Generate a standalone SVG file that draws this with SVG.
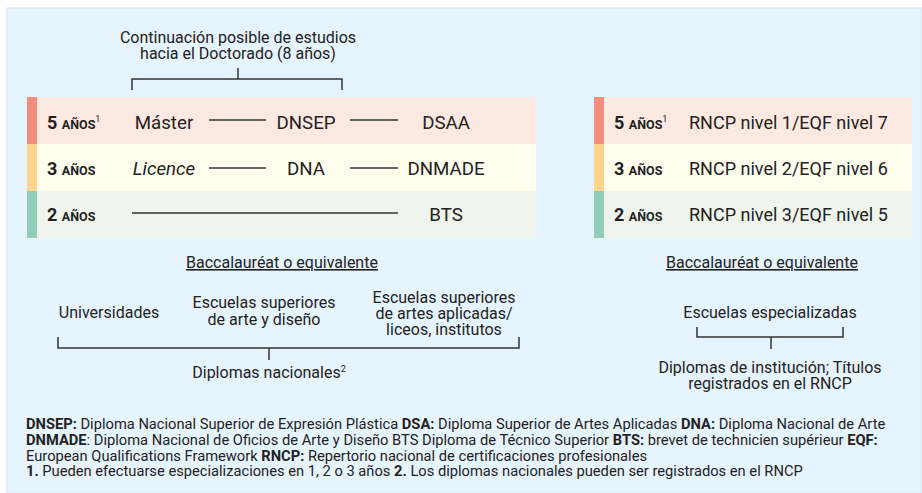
<svg xmlns="http://www.w3.org/2000/svg" width="922" height="493" viewBox="0 0 922 493">
<style>
text{font-family:Roboto,"Liberation Sans",sans-serif;fill:#222;}
.t{font-size:16px;}
.m{font-size:18.7px;}
.n{font-size:18px;}
.c{text-anchor:middle;}
.b{font-weight:bold;}
.sc{font-size:12.5px;font-weight:bold;}
.sup{font-size:9px;font-weight:normal;}
.fn{font-size:14.7px;}
.ln{stroke:#333;stroke-width:1.5;fill:none;}
.r1{fill:#fce9e1;} .b1{fill:#f28e7d;}
.r2{fill:#fffdee;} .b2{fill:#fdd58c;}
.r3{fill:#eff5ec;} .b3{fill:#8fcdb8;}
</style>
<rect x="0" y="0" width="922" height="493" fill="#fff"/>
<rect x="7" y="8" width="915" height="485" fill="#e6f4fd" stroke="#d8e6f5" stroke-width="1"/>

<g id="doctorado">
<text class="t c" x="238" y="43">Continuación posible de estudios</text>
<text class="t c" x="238" y="59">hacia el Doctorado (8 años)</text>
</g>

<g id="left-table">
<g id="row5">
<rect class="r1" x="27" y="97" width="509" height="47"/><rect class="b1" x="27" y="97" width="10" height="47"/>
<text class="n b" x="47" y="129">5 <tspan class="sc">AÑOS</tspan><tspan class="sup" font-size="7px" dy="-7">1</tspan></text>
<text class="m c" x="164" y="129">Máster</text>
<text class="m c" x="306" y="129">DNSEP</text>
<text class="m c" x="446" y="129">DSAA</text>
</g>
<g id="row3">
<rect class="r2" x="27" y="144" width="509" height="47"/><rect class="b2" x="27" y="144" width="10" height="47"/>
<text class="n b" x="47" y="175">3 <tspan class="sc">AÑOS</tspan></text>
<text class="m c" x="164" y="175" font-style="italic">Licence</text>
<text class="m c" x="306" y="175">DNA</text>
<text class="m c" x="446" y="175">DNMADE</text>
</g>
<g id="row2">
<rect class="r3" x="27" y="191" width="509" height="47"/><rect class="b3" x="27" y="191" width="10" height="47"/>
<text class="n b" x="47" y="221">2 <tspan class="sc">AÑOS</tspan></text>
<text class="m c" x="446" y="221">BTS</text>
</g>
</g>

<g id="right-table">
<g id="rrow5">
<rect class="r1" x="594" y="97" width="318" height="47"/><rect class="b1" x="594" y="97" width="10" height="47"/>
<text class="n b" x="614" y="129">5 <tspan class="sc">AÑOS</tspan><tspan class="sup" dy="-7">1</tspan></text>
<text class="n" x="689" y="129">RNCP nivel 1/EQF nivel 7</text>
</g>
<g id="rrow3">
<rect class="r2" x="594" y="144" width="318" height="47"/><rect class="b2" x="594" y="144" width="10" height="47"/>
<text class="n b" x="614" y="175">3 <tspan class="sc">AÑOS</tspan></text>
<text class="n" x="689" y="175">RNCP nivel 2/EQF nivel 6</text>
</g>
<g id="rrow2">
<rect class="r3" x="594" y="191" width="318" height="47"/><rect class="b3" x="594" y="191" width="10" height="47"/>
<text class="n b" x="614" y="221">2 <tspan class="sc">AÑOS</tspan></text>
<text class="n" x="689" y="221">RNCP nivel 3/EQF nivel 5</text>
</g>
</g>

<g id="bac-left"><text class="t c" x="282" y="268" text-decoration="underline">Baccalauréat o equivalente</text></g>
<g id="bac-right"><text class="t c" x="762" y="268" text-decoration="underline">Baccalauréat o equivalente</text></g>

<g id="universidades"><text class="t c" x="109" y="318">Universidades</text></g>
<g id="escuelas-arte"><text class="t c" x="264" y="308">Escuelas superiores</text><text class="t c" x="264" y="325">de arte y diseño</text></g>
<g id="escuelas-artes-aplicadas"><text class="t c" x="444" y="303">Escuelas superiores</text><text class="t c" x="444" y="319">de artes aplicadas/</text><text class="t c" x="444" y="335">liceos, institutos</text></g>
<g id="diplomas-nacionales"><text class="t c" x="269" y="378">Diplomas nacionales<tspan class="sup" dy="-6">2</tspan></text></g>

<g id="escuelas-especializadas"><text class="t c" x="770" y="318">Escuelas especializadas</text></g>
<g id="diplomas-institucion"><text class="t c" x="770" y="373">Diplomas de institución; Títulos</text><text class="t c" x="770" y="389">registrados en el RNCP</text></g>

<g id="connectors">
<path class="ln" d="M238 68V79M132 90V79H342V90"/>
<path class="ln" d="M209 120H266M350 120H398"/>
<path class="ln" d="M209 168H266M350 168H398"/>
<path class="ln" d="M132 213H398"/>
<path class="ln" d="M58 337V348H519V337M269 348V360"/>
<path class="ln" d="M697 327V337H843V327M771 337V349"/>
</g>

<g id="footnotes">
<text class="fn" x="26" y="429"><tspan class="b">DNSEP:</tspan> Diploma Nacional Superior de Expresión Plástica <tspan class="b">DSA:</tspan> Diploma Superior de Artes Aplicadas <tspan class="b">DNA:</tspan> Diploma Nacional de Arte</text>
<text class="fn" x="26" y="445"><tspan class="b">DNMADE</tspan>: Diploma Nacional de Oficios de Arte y Diseño BTS Diploma de Técnico Superior <tspan class="b">BTS:</tspan> brevet de technicien supérieur <tspan class="b">EQF:</tspan></text>
<text class="fn" x="26" y="461">European Qualifications Framework <tspan class="b">RNCP:</tspan> Repertorio nacional de certificaciones profesionales</text>
<text class="fn" x="26" y="476"><tspan class="b">1.</tspan> Pueden efectuarse especializaciones en 1, 2 o 3 años <tspan class="b">2.</tspan> Los diplomas nacionales pueden ser registrados en el RNCP</text>
</g>
</svg>
